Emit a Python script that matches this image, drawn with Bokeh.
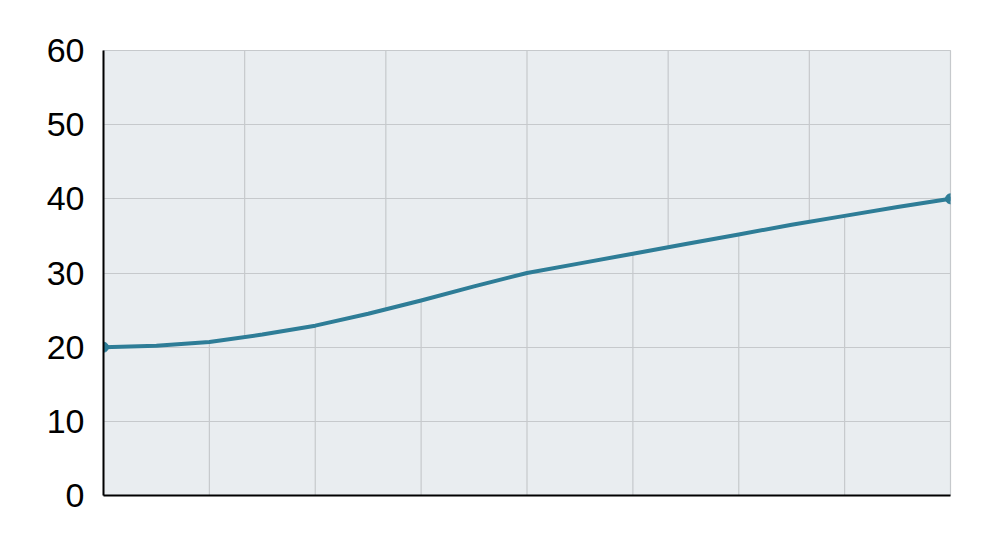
import numpy as np
from bokeh.plotting import figure
from bokeh.models import Range1d, FixedTicker
from bokeh.embed import file_html
from bokeh.resources import INLINE

# Data (x index 0..8 in half steps)
x_vals = [0, 0.5, 1, 1.5, 2, 2.5, 3, 3.5, 4, 4.5, 5, 5.5, 6, 6.5, 7, 7.5, 8]
y_vals = [20.0, 20.2, 20.7, 21.7, 22.9, 24.5, 26.3, 28.2, 30.0, 31.3, 32.6, 33.9, 35.2, 36.5, 37.7, 38.9, 40.0]
marker_x = [x_vals[0], x_vals[-1]]
marker_y = [y_vals[0], y_vals[-1]]
y_ticks = [0, 10, 20, 30, 40, 50, 60]
upper_divisions = 6
lower_divisions = 8

X_MAX = 8
Y_MAX = 60
GRID = "#c6c9cc"
LINE = "#2e7d97"

p = figure(width=992, height=537, output_backend="svg", toolbar_location=None,
           x_range=Range1d(0, X_MAX), y_range=Range1d(0, Y_MAX),
           min_border_left=103, min_border_right=42, min_border_top=50, min_border_bottom=42)
p.background_fill_color = "#e9edf0"
p.border_fill_color = "white"
p.outline_line_color = GRID
p.outline_line_width = 1.2

p.xgrid.visible = False
p.ygrid.grid_line_color = GRID
p.ygrid.grid_line_width = 1.2
p.yaxis.ticker = FixedTicker(ticks=y_ticks)

# vertical grid: coarse above the curve, fine below it
ux = [X_MAX * k / upper_divisions for k in range(1, upper_divisions)]
uy = list(np.interp(ux, x_vals, y_vals))
p.segment(x0=ux, y0=[Y_MAX] * len(ux), x1=ux, y1=uy, line_color=GRID, line_width=1.2)
lx = [X_MAX * k / lower_divisions for k in range(1, lower_divisions)]
ly = list(np.interp(lx, x_vals, y_vals))
p.segment(x0=lx, y0=[0] * len(lx), x1=lx, y1=ly, line_color=GRID, line_width=1.2)

p.line(x_vals, y_vals, line_color=LINE, line_width=4, line_cap="round", line_join="round")
p.scatter(marker_x, marker_y, size=10, fill_color=LINE, line_color=LINE)

for ax in (p.xaxis, p.yaxis):
    ax.axis_line_color = "black"
    ax.axis_line_width = 2
    ax.major_tick_line_color = None
    ax.minor_tick_line_color = None
p.xaxis.major_label_text_font_size = "0px"
p.xaxis.major_label_text_color = None
p.yaxis.major_label_text_font = "Liberation Sans"
p.yaxis.major_label_text_font_size = "34px"
p.yaxis.major_label_text_color = "black"
p.yaxis.major_label_standoff = 13

open("out.html", "w").write(file_html(p, INLINE))
